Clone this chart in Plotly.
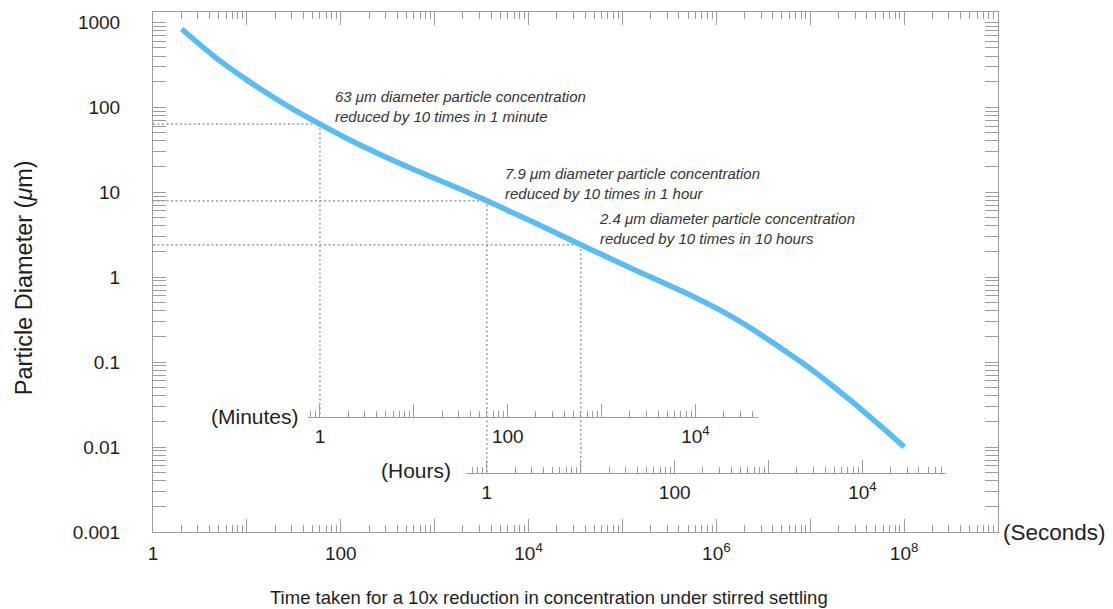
import math
import plotly.graph_objects as go

# ---- data ----
time_s = [2.02, 4.77, 10.8, 24.4, 60, 125, 284, 644, 1456, 3600, 7480, 16900, 36000,
          86900, 196000, 445000, 1.01e6, 1.52e6, 2.28e6, 3.44e6, 5.16e6, 7.78e6,
          1.17e7, 1.76e7, 2.65e7, 3.99e7, 6.31e7, 1.0e8]
diameter_um = [831, 375, 197, 111, 63, 41.1, 26.7, 17.9, 12.2, 7.9, 5.44, 3.59, 2.4,
               1.53, 1.01, 0.672, 0.428, 0.333, 0.254, 0.189, 0.140, 0.102,
               0.0735, 0.0516, 0.0358, 0.0244, 0.0158, 0.0100]

# highlighted cases: diameter (um), time (s)
ref_diam = [63, 7.9, 2.4]
ref_time = [60, 3600, 36000]
ref_text = ["63 μm diameter particle concentration<br>reduced by 10 times in 1 minute",
            "7.9 μm diameter particle concentration<br>reduced by 10 times in 1 hour",
            "2.4 μm diameter particle concentration<br>reduced by 10 times in 10 hours"]
ref_axis = ["min", "hr", "hr"]   # which auxiliary axis each drop line reaches

# axis ranges
x_range_log = [0, 9]            # seconds
y_range_log = [-3, 3.12]        # micrometres
minutes_range = [0.75, 4.6e4]
hours_range = [0.6, 7.7e4]
min_pos, hr_pos = 0.2217, 0.1135   # vertical positions of auxiliary axes (paper)

sec_labeled = [1, 1e2, 1e4, 1e6, 1e8]
sec_ticktext = ["1", "100", "10<sup>4</sup>", "10<sup>6</sup>", "10<sup>8</sup>"]
sec_unlabeled = [10, 1e3, 1e5, 1e7, 1e9]
y_ticktext = ["0.001", "0.01", "0.1", "1", "10", "100", "1000"]
aux_labeled = [1, 100, 1e4]
aux_ticktext = ["1", "100", "10<sup>4</sup>"]
aux_unlabeled = [10, 1000]

AX = "#9c9c9c"
TXT = "#1e1e1e"
FONT = "Liberation Sans, Arial, Helvetica, sans-serif"
LINE = "#58BDF4"
DOT = "#8a8a8a"


def decades(lo, hi):
    return [10.0 ** k for k in range(lo, hi + 1)]


def minors(lo, hi):
    return [m * 10.0 ** k for k in range(lo, hi + 1) for m in range(2, 10)]


def paper_to_y(p):
    return 10 ** (y_range_log[0] + p * (y_range_log[1] - y_range_log[0]))


def domain_for(rng, factor):
    span = x_range_log[1] - x_range_log[0]
    return [(math.log10(rng[0] * factor) - x_range_log[0]) / span,
            (math.log10(rng[1] * factor) - x_range_log[0]) / span]


fig = go.Figure()

# dotted guide lines
axis_y = {"min": paper_to_y(min_pos), "hr": paper_to_y(hr_pos)}
for d, t, a in zip(ref_diam, ref_time, ref_axis):
    fig.add_trace(go.Scatter(x=[1, t, t], y=[d, d, axis_y[a]], mode="lines",
                             line=dict(color=DOT, width=1.2, dash="2px,2.5px"),
                             hoverinfo="skip", showlegend=False))

# main curve
fig.add_trace(go.Scatter(x=time_s, y=diameter_um, mode="lines",
                         line=dict(color=LINE, width=5.5, shape="spline", smoothing=1.0),
                         hoverinfo="skip", showlegend=False))

# placeholder traces so the auxiliary axes exist (on a hidden y axis)
for xa, ya in [("x2", "y2"), ("x3", "y2"), ("x4", "y"), ("x5", "y2"), ("x6", "y2")]:
    fig.add_trace(go.Scatter(x=[None], y=[None], xaxis=xa, yaxis=ya,
                             showlegend=False, hoverinfo="skip"))

common = dict(showline=True, linecolor=AX, linewidth=1, ticks="inside", tickcolor=AX,
              tickwidth=1, showgrid=False, zeroline=False,
              tickfont=dict(family=FONT, size=19, color=TXT))


def minor_cfg(vals, length):
    return dict(tickmode="array", tickvals=vals, ticks="inside",
                ticklen=length, tickcolor=AX, tickwidth=1)


min_dom = domain_for(minutes_range, 60)
hr_dom = domain_for(hours_range, 3600)
min_rng = [math.log10(minutes_range[0]), math.log10(minutes_range[1])]
hr_rng = [math.log10(hours_range[0]), math.log10(hours_range[1])]

fig.update_layout(
    width=1113, height=609,
    margin=dict(l=153, r=115, t=12, b=77),
    paper_bgcolor="white", plot_bgcolor="rgba(0,0,0,0)",
    font=dict(family=FONT, color=TXT),
    xaxis=dict(type="log", range=x_range_log, mirror="allticks", ticklen=13,
               tickmode="array", tickvals=sec_labeled, ticktext=sec_ticktext,
               minor=minor_cfg(minors(0, 8), 7), ticklabelstandoff=4, **common),
    xaxis4=dict(type="log", range=x_range_log, overlaying="x", mirror="allticks",
                ticklen=13, tickmode="array", tickvals=sec_unlabeled,
                showticklabels=False, **common),
    yaxis=dict(type="log", range=y_range_log, mirror="allticks", ticklen=13,
               tickmode="array", tickvals=decades(-3, 3), ticktext=y_ticktext,
               minor=minor_cfg(minors(-3, 3), 8), ticklabelstandoff=28, **common),
    yaxis2=dict(type="log", range=y_range_log, visible=False, anchor="x2",
                showgrid=False, zeroline=False),
    xaxis2=dict(type="log", anchor="free", position=min_pos, domain=min_dom,
                range=min_rng, ticklen=13, tickmode="array", tickvals=aux_labeled,
                ticktext=aux_ticktext, minor=minor_cfg(minors(-1, 4), 6),
                ticklabelstandoff=2, **common),
    xaxis5=dict(type="log", anchor="free", position=min_pos, overlaying="x2",
                range=min_rng, ticklen=13, tickmode="array", tickvals=aux_unlabeled,
                showticklabels=False, **common),
    xaxis3=dict(type="log", anchor="free", position=hr_pos, domain=hr_dom,
                range=hr_rng, ticklen=13, tickmode="array", tickvals=aux_labeled,
                ticktext=aux_ticktext, minor=minor_cfg(minors(-1, 4), 6),
                ticklabelstandoff=2, **common),
    xaxis6=dict(type="log", anchor="free", position=hr_pos, overlaying="x3",
                range=hr_rng, ticklen=13, tickmode="array", tickvals=aux_unlabeled,
                showticklabels=False, **common),
)

annotations = []
# callout texts (positions in log10 data units)
text_pos = [(1.915, 2.008), (3.723, 1.102), (4.734, 0.567)]
for (ax_, ay_), txt in zip(text_pos, ref_text):
    annotations.append(dict(x=ax_, y=ay_, xref="x", yref="y", text=txt, showarrow=False,
                            xanchor="left", yanchor="middle", align="left",
                            font=dict(family=FONT, size=15, color="#333333", style="italic")))

annotations += [
    dict(x=min_dom[0], y=min_pos, xref="paper", yref="paper", text="(Minutes)",
         showarrow=False, xanchor="right", yanchor="middle", xshift=-7,
         font=dict(family=FONT, size=21, color=TXT)),
    dict(x=hr_dom[0], y=hr_pos, xref="paper", yref="paper", text="(Hours)",
         showarrow=False, xanchor="right", yanchor="middle", xshift=-13, yshift=2,
         font=dict(family=FONT, size=21, color=TXT)),
    dict(x=1, y=0, xref="paper", yref="paper", text="(Seconds)",
         showarrow=False, xanchor="left", yanchor="middle", xshift=3,
         font=dict(family=FONT, size=22.5, color=TXT)),
    dict(x=0.4686, y=-0.125, xref="paper", yref="paper",
         text="Time taken for a 10x reduction in concentration under stirred settling",
         showarrow=False, xanchor="center", yanchor="middle",
         font=dict(family=FONT, size=18.5, color=TXT)),
    dict(x=-0.1527, y=0.49, xref="paper", yref="paper",
         text="Particle Diameter (<i>μ</i>m)", textangle=-90,
         showarrow=False, xanchor="center", yanchor="middle",
         font=dict(family=FONT, size=23.5, color=TXT)),
]
fig.update_layout(annotations=annotations)

fig.write_html("out.html", config={"displayModeBar": False})
